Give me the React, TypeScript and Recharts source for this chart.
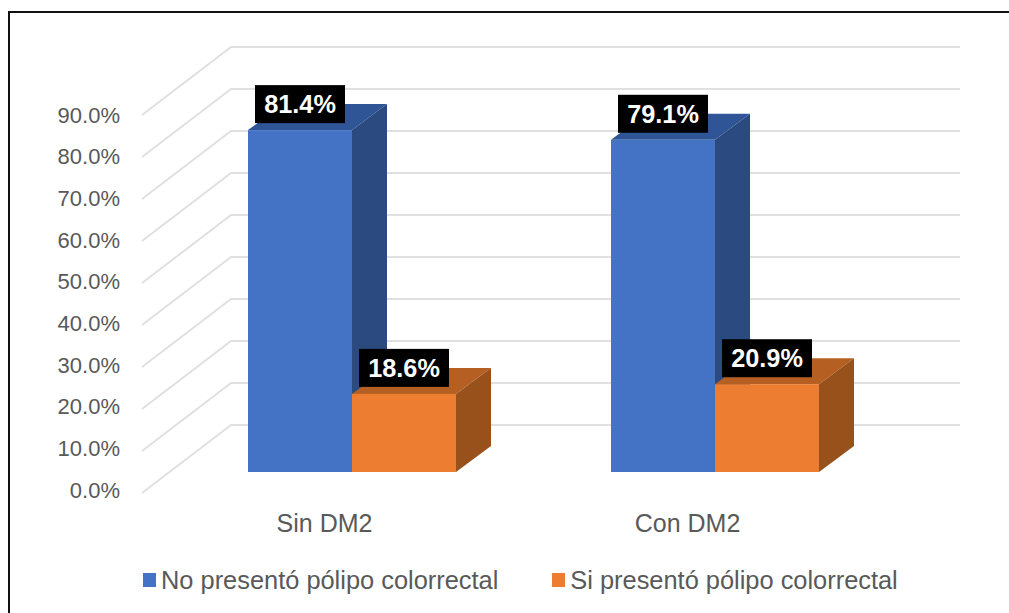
import React from 'react';
import { BarChart, Bar, XAxis, YAxis, CartesianGrid, Legend, LabelList } from 'recharts';

const categories = ['Sin DM2', 'Con DM2'];
const noPolipo = [81.4, 79.1];
const siPolipo = [18.6, 20.9];
const yTicks = [0, 10, 20, 30, 40, 50, 60, 70, 80, 90];

const chartData = categories.map((name, i) => ({
  name,
  no: noPolipo[i],
  si: siPolipo[i],
}));

const FONT = '"Liberation Sans", Arial, sans-serif';
const TEXT_COLOR = '#595959';
const DEPTH_X = 35;
const DEPTH_Y = 26;

// 3D look: front face plus a top and a side face pushed back by the depth offset
const Prism = ({ x, y, width, height, fill, topFill, sideFill }: any) => (
  <g>
    <path
      d={`M${x},${y} L${x + DEPTH_X},${y - DEPTH_Y} L${x + width + DEPTH_X},${y - DEPTH_Y} L${x + width},${y} Z`}
      fill={topFill}
    />
    <path
      d={`M${x + width},${y} L${x + width + DEPTH_X},${y - DEPTH_Y} L${x + width + DEPTH_X},${y + height - DEPTH_Y} L${x + width},${y + height} Z`}
      fill={sideFill}
    />
    <rect x={x} y={y} width={width} height={height} fill={fill} />
  </g>
);

// Grid line runs along the floor/side wall and then across the back wall
const WallLine = ({ x1, y1 }: any) => (
  <polyline
    points={`${x1 - 28},${y1 + 21} ${x1 + 61},${y1 - 47} 960,${y1 - 47}`}
    fill="none"
    stroke="#E0E0E0"
    strokeWidth={2}
  />
);

// Tick labels sit a little tighter than the grid, so the offset grows going up the axis
const PercentTick = ({ y, payload }: any) => (
  <text x={120} y={y + 18 + (472 - y) * 0.008} textAnchor="end" dominantBaseline="central" fontFamily={FONT} fontSize={22} fill={TEXT_COLOR}>
    {payload.value.toFixed(1)}%
  </text>
);

const CategoryTick = ({ x, y, payload }: any) => (
  <text x={x - 27} y={y + 43} textAnchor="middle" dominantBaseline="central" fontFamily={FONT} fontSize={25} fill={TEXT_COLOR}>
    {payload.value}
  </text>
);

const ValueBadge = ({ x, y, width, value }: any) => {
  const cx = x + width / 2;
  const cy = y - 26;
  return (
    <g>
      <rect x={cx - 45} y={cy - 19} width={90} height={38} fill="#000000" />
      <text x={cx} y={cy} textAnchor="middle" dominantBaseline="central" fontFamily={FONT} fontSize={25.3} fontWeight="bold" fill="#FFFFFF">
        {value.toFixed(1)}%
      </text>
    </g>
  );
};

const LegendRow = ({ payload }: any) => (
  <div style={{ display: 'flex', fontFamily: FONT, fontSize: 25.4, color: TEXT_COLOR, lineHeight: '30px' }}>
    {payload.map((item: any) => (
      <div key={item.value} style={{ display: 'flex', alignItems: 'center', marginRight: 54 }}>
        <span style={{ width: 13, height: 14, background: item.color, marginRight: 5 }} />
        <span style={{ whiteSpace: 'nowrap' }}>{item.value}</span>
      </div>
    ))}
  </div>
);

export default function App() {
  return (
    <div style={{ position: 'absolute', left: 0, top: 0, width: 1009, height: 613, background: '#fff', overflow: 'hidden' }}>
      <div style={{ position: 'absolute', left: 8, top: 11, right: 0, bottom: 0, borderTop: '2px solid #111', borderLeft: '2px solid #111' }} />
      <BarChart
        width={1009}
        height={613}
        data={chartData}
        barGap={0}
        barSize={104}
        margin={{ top: 94, right: 113, bottom: 81, left: 70 }}
        style={{ position: 'absolute', left: 0, top: 0 }}
      >
        <CartesianGrid vertical={false} horizontal={(props: any) => <WallLine key={props.y1} {...props} />} />
        <XAxis dataKey="name" axisLine={false} tickLine={false} height={30} tick={<CategoryTick />} />
        <YAxis
          width={100}
          domain={[0, 90]}
          ticks={yTicks}
          interval={0}
          axisLine={false}
          tickLine={false}
          tick={<PercentTick />}
        />
        <Legend content={<LegendRow />} wrapperStyle={{ left: 143, top: 565, width: 850 }} />
        <Bar
          dataKey="no"
          name="No presentó pólipo colorrectal"
          fill="#4472C4"
          isAnimationActive={false}
          shape={(props: any) => <Prism {...props} topFill="#2F5597" sideFill="#2A4A80" />}
        >
          <LabelList dataKey="no" content={<ValueBadge />} />
        </Bar>
        <Bar
          dataKey="si"
          name="Si presentó pólipo colorrectal"
          fill="#ED7D31"
          isAnimationActive={false}
          shape={(props: any) => <Prism {...props} topFill="#B56022" sideFill="#99511C" />}
        >
          <LabelList dataKey="si" content={<ValueBadge />} />
        </Bar>
      </BarChart>
    </div>
  );
}
